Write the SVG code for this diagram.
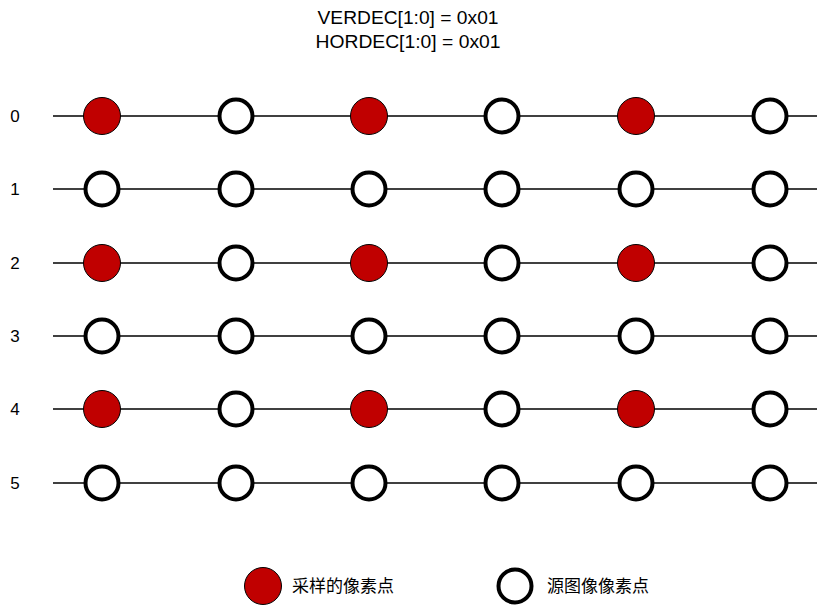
<svg xmlns="http://www.w3.org/2000/svg" width="817" height="608" viewBox="0 0 817 608">
<style>
text{font-family:"Liberation Sans","Noto Sans CJK SC",sans-serif;fill:#000}
.t{font-size:18.5px;text-anchor:middle}
.r{font-size:17px;text-anchor:middle}
.l{font-size:17px}
.row{stroke:#000;stroke-width:1.3}
.s{fill:#c00000;stroke:#000;stroke-width:1}
.o{fill:#fff;stroke:#000;stroke-width:4}
</style>
<defs>
<circle id="S" r="18.5" class="s"/>
<circle id="O" r="16.5" class="o"/>
</defs>
<rect width="817" height="608" fill="#fff"/>
<g id="title">
<text class="t" x="408" y="24" textLength="181" lengthAdjust="spacingAndGlyphs">VERDEC[1:0] = 0x01</text>
<text class="t" x="408" y="48" textLength="185" lengthAdjust="spacingAndGlyphs">HORDEC[1:0] = 0x01</text>
</g>
<g id="connectors">
<line class="row" x1="53" y1="116" x2="817" y2="116"/>
<line class="row" x1="53" y1="189" x2="817" y2="189"/>
<line class="row" x1="53" y1="263" x2="817" y2="263"/>
<line class="row" x1="53" y1="336" x2="817" y2="336"/>
<line class="row" x1="53" y1="409" x2="817" y2="409"/>
<line class="row" x1="53" y1="483" x2="817" y2="483"/>
</g>
<g id="labels">
<text class="r" x="15" y="122">0</text>
<text class="r" x="15" y="195">1</text>
<text class="r" x="15" y="269">2</text>
<text class="r" x="15" y="342">3</text>
<text class="r" x="15" y="415">4</text>
<text class="r" x="15" y="489">5</text>
</g>
<g id="row0">
<use href="#S" x="102" y="116"/><use href="#O" x="236" y="116"/><use href="#S" x="369" y="116"/><use href="#O" x="502" y="116"/><use href="#S" x="636" y="116"/><use href="#O" x="770" y="116"/>
</g>
<g id="row1">
<use href="#O" x="102" y="189"/><use href="#O" x="236" y="189"/><use href="#O" x="369" y="189"/><use href="#O" x="502" y="189"/><use href="#O" x="636" y="189"/><use href="#O" x="770" y="189"/>
</g>
<g id="row2">
<use href="#S" x="102" y="263"/><use href="#O" x="236" y="263"/><use href="#S" x="369" y="263"/><use href="#O" x="502" y="263"/><use href="#S" x="636" y="263"/><use href="#O" x="770" y="263"/>
</g>
<g id="row3">
<use href="#O" x="102" y="336"/><use href="#O" x="236" y="336"/><use href="#O" x="369" y="336"/><use href="#O" x="502" y="336"/><use href="#O" x="636" y="336"/><use href="#O" x="770" y="336"/>
</g>
<g id="row4">
<use href="#S" x="102" y="409"/><use href="#O" x="236" y="409"/><use href="#S" x="369" y="409"/><use href="#O" x="502" y="409"/><use href="#S" x="636" y="409"/><use href="#O" x="770" y="409"/>
</g>
<g id="row5">
<use href="#O" x="102" y="483"/><use href="#O" x="236" y="483"/><use href="#O" x="369" y="483"/><use href="#O" x="502" y="483"/><use href="#O" x="636" y="483"/><use href="#O" x="770" y="483"/>
</g>
<g id="legend-sampled">
<use href="#S" x="263" y="586"/>
<text class="l" x="292" y="592">采样的像素点</text>
</g>
<g id="legend-source">
<use href="#O" x="515" y="586"/>
<text class="l" x="547" y="592">源图像像素点</text>
</g>
</svg>
